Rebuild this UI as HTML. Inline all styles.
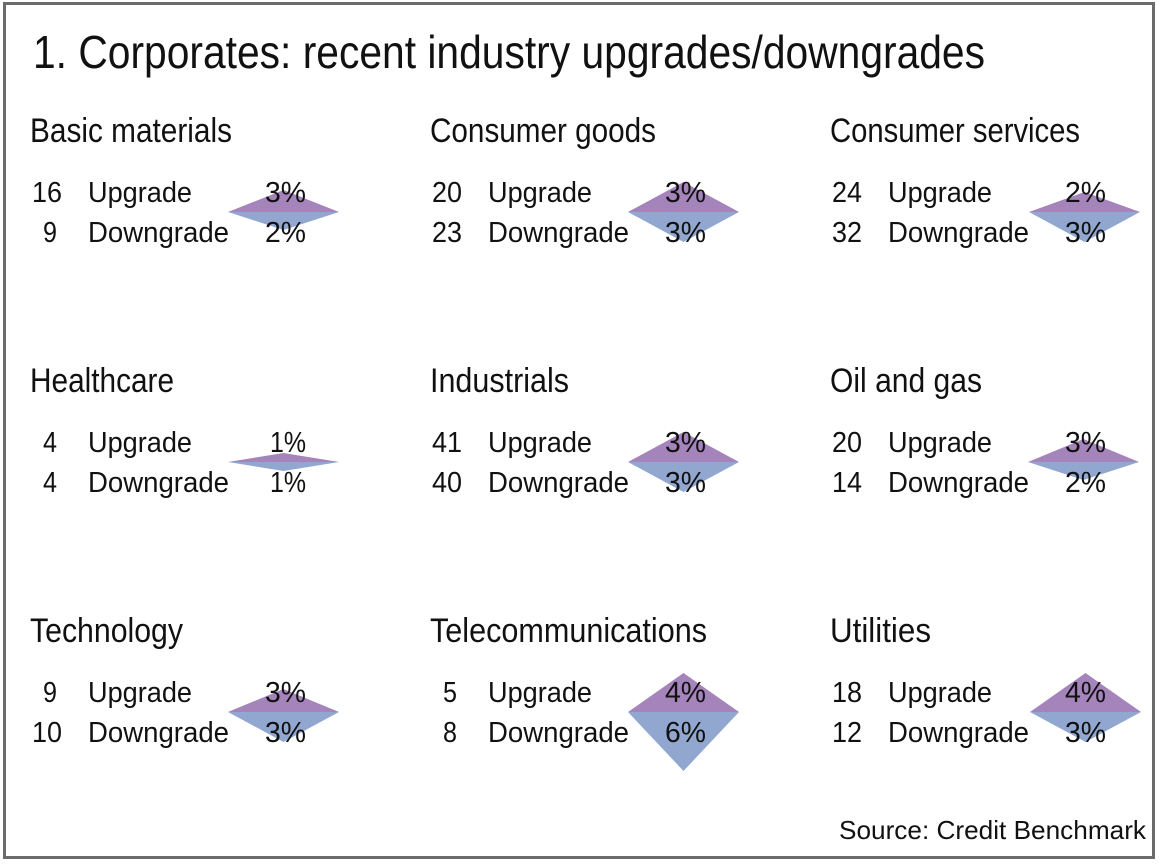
<!DOCTYPE html>
<html>
<head>
<meta charset="utf-8">
<style>
  html,body{margin:0;padding:0;background:#fff;}
  svg{display:block;}
  text{font-family:"Liberation Sans",sans-serif;fill:#111;}
  .t{font-size:46px;}
  .h{font-size:34px;}
  .r{font-size:29px;}
  .s{font-size:26px;}
</style>
</head>
<body>
<svg width="1160" height="866" viewBox="0 0 1160 866" xmlns="http://www.w3.org/2000/svg">
  <rect x="0" y="0" width="1160" height="866" fill="#fff"/>
  <rect x="4.5" y="3.5" width="1149" height="854" fill="#fff" stroke="#6b6b6b" stroke-width="3"/>

  <text class="t" x="33" y="68" textLength="952" lengthAdjust="spacingAndGlyphs">1. Corporates: recent industry upgrades/downgrades</text>

  <!-- Diamonds -->
  <g>
    <polygon points="228,212 283.5,190 339,212" fill="#a484bb"/>
    <polygon points="228,212 283.5,230 339,212" fill="#91a7d0"/>
    <polygon points="628,212 683.5,182 739,212" fill="#a484bb"/>
    <polygon points="628,212 683.5,242 739,212" fill="#91a7d0"/>
    <polygon points="1029,212 1084.5,192 1140,212" fill="#a484bb"/>
    <polygon points="1029,212 1084.5,242 1140,212" fill="#91a7d0"/>
    <polygon points="228,462 283.5,453 339,462" fill="#a484bb"/>
    <polygon points="228,462 283.5,471 339,462" fill="#91a7d0"/>
    <polygon points="628,462 683.5,432 739,462" fill="#a484bb"/>
    <polygon points="628,462 683.5,492 739,462" fill="#91a7d0"/>
    <polygon points="1028,462 1083.5,439 1139,462" fill="#a484bb"/>
    <polygon points="1028,462 1083.5,480 1139,462" fill="#91a7d0"/>
    <polygon points="228,712 283.5,689 339,712" fill="#a484bb"/>
    <polygon points="228,712 283.5,742 339,712" fill="#91a7d0"/>
    <polygon points="628,712 683.5,673 739,712" fill="#a484bb"/>
    <polygon points="628,712 683.5,771 739,712" fill="#91a7d0"/>
    <polygon points="1030,712 1085.5,673 1141,712" fill="#a484bb"/>
    <polygon points="1030,712 1085.5,742 1141,712" fill="#91a7d0"/>
  </g>

  <!-- Row 1 -->
  <text class="h" x="30" y="142" textLength="202" lengthAdjust="spacingAndGlyphs">Basic materials</text>
  <text class="r" x="32" y="202" textLength="30" lengthAdjust="spacingAndGlyphs">16</text>
  <text class="r" x="88" y="202" textLength="104" lengthAdjust="spacingAndGlyphs">Upgrade</text>
  <text class="r" x="265" y="202" textLength="41" lengthAdjust="spacingAndGlyphs">3%</text>
  <text class="r" x="43" y="242" textLength="14" lengthAdjust="spacingAndGlyphs">9</text>
  <text class="r" x="88" y="242" textLength="141" lengthAdjust="spacingAndGlyphs">Downgrade</text>
  <text class="r" x="265" y="242" textLength="41" lengthAdjust="spacingAndGlyphs">2%</text>

  <text class="h" x="430" y="142" textLength="226" lengthAdjust="spacingAndGlyphs">Consumer goods</text>
  <text class="r" x="432" y="202" textLength="30" lengthAdjust="spacingAndGlyphs">20</text>
  <text class="r" x="488" y="202" textLength="104" lengthAdjust="spacingAndGlyphs">Upgrade</text>
  <text class="r" x="665" y="202" textLength="41" lengthAdjust="spacingAndGlyphs">3%</text>
  <text class="r" x="432" y="242" textLength="30" lengthAdjust="spacingAndGlyphs">23</text>
  <text class="r" x="488" y="242" textLength="141" lengthAdjust="spacingAndGlyphs">Downgrade</text>
  <text class="r" x="665" y="242" textLength="41" lengthAdjust="spacingAndGlyphs">3%</text>

  <text class="h" x="830" y="142" textLength="250" lengthAdjust="spacingAndGlyphs">Consumer services</text>
  <text class="r" x="832" y="202" textLength="30" lengthAdjust="spacingAndGlyphs">24</text>
  <text class="r" x="888" y="202" textLength="104" lengthAdjust="spacingAndGlyphs">Upgrade</text>
  <text class="r" x="1065" y="202" textLength="41" lengthAdjust="spacingAndGlyphs">2%</text>
  <text class="r" x="832" y="242" textLength="30" lengthAdjust="spacingAndGlyphs">32</text>
  <text class="r" x="888" y="242" textLength="141" lengthAdjust="spacingAndGlyphs">Downgrade</text>
  <text class="r" x="1065" y="242" textLength="41" lengthAdjust="spacingAndGlyphs">3%</text>

  <!-- Row 2 -->
  <text class="h" x="30" y="392" textLength="144" lengthAdjust="spacingAndGlyphs">Healthcare</text>
  <text class="r" x="43" y="452" textLength="14" lengthAdjust="spacingAndGlyphs">4</text>
  <text class="r" x="88" y="452" textLength="104" lengthAdjust="spacingAndGlyphs">Upgrade</text>
  <text class="r" x="270" y="452" textLength="36" lengthAdjust="spacingAndGlyphs">1%</text>
  <text class="r" x="43" y="492" textLength="14" lengthAdjust="spacingAndGlyphs">4</text>
  <text class="r" x="88" y="492" textLength="141" lengthAdjust="spacingAndGlyphs">Downgrade</text>
  <text class="r" x="270" y="492" textLength="36" lengthAdjust="spacingAndGlyphs">1%</text>

  <text class="h" x="430" y="392" textLength="139" lengthAdjust="spacingAndGlyphs">Industrials</text>
  <text class="r" x="432" y="452" textLength="30" lengthAdjust="spacingAndGlyphs">41</text>
  <text class="r" x="488" y="452" textLength="104" lengthAdjust="spacingAndGlyphs">Upgrade</text>
  <text class="r" x="665" y="452" textLength="41" lengthAdjust="spacingAndGlyphs">3%</text>
  <text class="r" x="432" y="492" textLength="30" lengthAdjust="spacingAndGlyphs">40</text>
  <text class="r" x="488" y="492" textLength="141" lengthAdjust="spacingAndGlyphs">Downgrade</text>
  <text class="r" x="665" y="492" textLength="41" lengthAdjust="spacingAndGlyphs">3%</text>

  <text class="h" x="830" y="392" textLength="152" lengthAdjust="spacingAndGlyphs">Oil and gas</text>
  <text class="r" x="832" y="452" textLength="30" lengthAdjust="spacingAndGlyphs">20</text>
  <text class="r" x="888" y="452" textLength="104" lengthAdjust="spacingAndGlyphs">Upgrade</text>
  <text class="r" x="1065" y="452" textLength="41" lengthAdjust="spacingAndGlyphs">3%</text>
  <text class="r" x="832" y="492" textLength="30" lengthAdjust="spacingAndGlyphs">14</text>
  <text class="r" x="888" y="492" textLength="141" lengthAdjust="spacingAndGlyphs">Downgrade</text>
  <text class="r" x="1065" y="492" textLength="41" lengthAdjust="spacingAndGlyphs">2%</text>

  <!-- Row 3 -->
  <text class="h" x="30" y="642" textLength="153" lengthAdjust="spacingAndGlyphs">Technology</text>
  <text class="r" x="43" y="702" textLength="14" lengthAdjust="spacingAndGlyphs">9</text>
  <text class="r" x="88" y="702" textLength="104" lengthAdjust="spacingAndGlyphs">Upgrade</text>
  <text class="r" x="265" y="702" textLength="41" lengthAdjust="spacingAndGlyphs">3%</text>
  <text class="r" x="32" y="742" textLength="30" lengthAdjust="spacingAndGlyphs">10</text>
  <text class="r" x="88" y="742" textLength="141" lengthAdjust="spacingAndGlyphs">Downgrade</text>
  <text class="r" x="265" y="742" textLength="41" lengthAdjust="spacingAndGlyphs">3%</text>

  <text class="h" x="430" y="642" textLength="277" lengthAdjust="spacingAndGlyphs">Telecommunications</text>
  <text class="r" x="443" y="702" textLength="14" lengthAdjust="spacingAndGlyphs">5</text>
  <text class="r" x="488" y="702" textLength="104" lengthAdjust="spacingAndGlyphs">Upgrade</text>
  <text class="r" x="665" y="702" textLength="41" lengthAdjust="spacingAndGlyphs">4%</text>
  <text class="r" x="443" y="742" textLength="14" lengthAdjust="spacingAndGlyphs">8</text>
  <text class="r" x="488" y="742" textLength="141" lengthAdjust="spacingAndGlyphs">Downgrade</text>
  <text class="r" x="665" y="742" textLength="41" lengthAdjust="spacingAndGlyphs">6%</text>

  <text class="h" x="830" y="642" textLength="101" lengthAdjust="spacingAndGlyphs">Utilities</text>
  <text class="r" x="832" y="702" textLength="30" lengthAdjust="spacingAndGlyphs">18</text>
  <text class="r" x="888" y="702" textLength="104" lengthAdjust="spacingAndGlyphs">Upgrade</text>
  <text class="r" x="1065" y="702" textLength="41" lengthAdjust="spacingAndGlyphs">4%</text>
  <text class="r" x="832" y="742" textLength="30" lengthAdjust="spacingAndGlyphs">12</text>
  <text class="r" x="888" y="742" textLength="141" lengthAdjust="spacingAndGlyphs">Downgrade</text>
  <text class="r" x="1065" y="742" textLength="41" lengthAdjust="spacingAndGlyphs">3%</text>

  <text class="s" x="839" y="839" textLength="307" lengthAdjust="spacingAndGlyphs">Source: Credit Benchmark</text>
</svg>
</body>
</html>
